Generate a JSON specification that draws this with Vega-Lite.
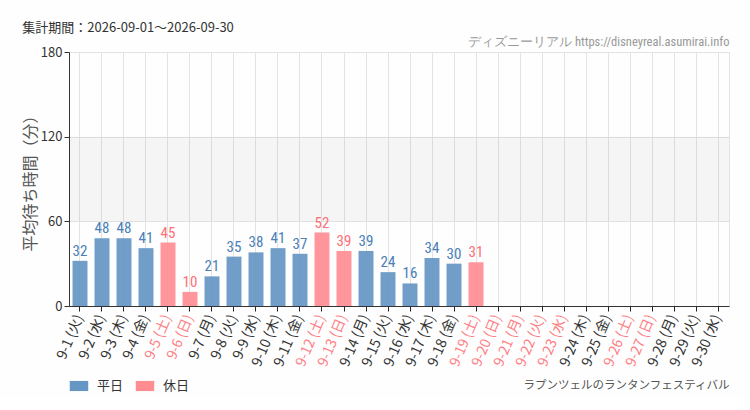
{
  "$schema": "https://vega.github.io/schema/vega-lite/v6.json",
  "width": 660,
  "height": 254,
  "padding": {"left": 22, "top": 22, "right": 20, "bottom": 5},
  "background": "#fdfefd",
  "title": {
    "text": "集計期間：2026-09-01〜2026-09-30",
    "anchor": "start",
    "frame": "bounds",
    "font": "Noto Sans CJK JP",
    "fontSize": 13,
    "fontWeight": "normal",
    "color": "#333333",
    "offset": 0
  },
  "config": {
    "view": {"stroke": "#e3e3e3"},
    "axis": {"labelFont": "Noto Sans CJK JP", "titleFont": "Noto Sans CJK JP"},
    "legend": {"labelFont": "Noto Sans CJK JP"}
  },
  "datasets": {
    "days": [
      {"day": "9-1 (火)", "type": "平日", "wait": 32},
      {"day": "9-2 (水)", "type": "平日", "wait": 48},
      {"day": "9-3 (木)", "type": "平日", "wait": 48},
      {"day": "9-4 (金)", "type": "平日", "wait": 41},
      {"day": "9-5 (土)", "type": "休日", "wait": 45},
      {"day": "9-6 (日)", "type": "休日", "wait": 10},
      {"day": "9-7 (月)", "type": "平日", "wait": 21},
      {"day": "9-8 (火)", "type": "平日", "wait": 35},
      {"day": "9-9 (水)", "type": "平日", "wait": 38},
      {"day": "9-10 (木)", "type": "平日", "wait": 41},
      {"day": "9-11 (金)", "type": "平日", "wait": 37},
      {"day": "9-12 (土)", "type": "休日", "wait": 52},
      {"day": "9-13 (日)", "type": "休日", "wait": 39},
      {"day": "9-14 (月)", "type": "平日", "wait": 39},
      {"day": "9-15 (火)", "type": "平日", "wait": 24},
      {"day": "9-16 (水)", "type": "平日", "wait": 16},
      {"day": "9-17 (木)", "type": "平日", "wait": 34},
      {"day": "9-18 (金)", "type": "平日", "wait": 30},
      {"day": "9-19 (土)", "type": "休日", "wait": 31},
      {"day": "9-20 (日)", "type": "休日", "wait": null},
      {"day": "9-21 (月)", "type": "休日", "wait": null},
      {"day": "9-22 (火)", "type": "休日", "wait": null},
      {"day": "9-23 (水)", "type": "休日", "wait": null},
      {"day": "9-24 (木)", "type": "平日", "wait": null},
      {"day": "9-25 (金)", "type": "平日", "wait": null},
      {"day": "9-26 (土)", "type": "休日", "wait": null},
      {"day": "9-27 (日)", "type": "休日", "wait": null},
      {"day": "9-28 (月)", "type": "平日", "wait": null},
      {"day": "9-29 (火)", "type": "平日", "wait": null},
      {"day": "9-30 (水)", "type": "平日", "wait": null}
    ],
    "bands": [{"lo": 60, "hi": 120}]
  },
  "layer": [
    {
      "data": {"name": "bands"},
      "mark": {"type": "rect", "color": "#000000", "opacity": 0.035},
      "encoding": {
        "y": {
          "field": "lo",
          "type": "quantitative",
          "scale": {"domain": [0, 180], "nice": false},
          "axis": {
            "title": "平均待ち時間（分）",
            "values": [0, 60, 120, 180],
            "labelFontSize": 13,
            "labelColor": "#333333",
            "domainColor": "#333333",
            "tickColor": "#333333",
            "tickSize": 5,
            "gridColor": "#e3e3e3",
            "titleFontSize": 16,
            "titleFontWeight": "normal",
            "titleColor": "#555555",
            "titlePadding": 2
          }
        },
        "y2": {"field": "hi"}
      }
    },
    {
      "data": {"name": "days"},
      "mark": {"type": "bar", "opacity": 0.92},
      "encoding": {
        "x": {
          "field": "day",
          "type": "nominal",
          "sort": null,
          "scale": {
            "domain": ["9-1 (火)", "9-2 (水)", "9-3 (木)", "9-4 (金)", "9-5 (土)", "9-6 (日)", "9-7 (月)", "9-8 (火)", "9-9 (水)", "9-10 (木)", "9-11 (金)", "9-12 (土)", "9-13 (日)", "9-14 (月)", "9-15 (火)", "9-16 (水)", "9-17 (木)", "9-18 (金)", "9-19 (土)", "9-20 (日)", "9-21 (月)", "9-22 (火)", "9-23 (水)", "9-24 (木)", "9-25 (金)", "9-26 (土)", "9-27 (日)", "9-28 (月)", "9-29 (火)", "9-30 (水)"],
            "paddingInner": 0.32,
            "paddingOuter": 0.16
          },
          "axis": {
            "orient": "bottom",
            "title": "ラプンツェルのランタンフェスティバル",
            "titleAnchor": "end",
            "titleFontSize": 11.5,
            "titleFontWeight": "normal",
            "titleColor": "#555555",
            "titlePadding": 11,
            "bandPosition": 0.5,
            "labelAngle": -67,
            "labelAlign": "right",
            "labelBaseline": "middle",
            "labelFontSize": 14,
            "labelPadding": 4,
            "labelColor": {
              "condition": {
                "test": "indexof(['9-5 (土)','9-6 (日)','9-12 (土)','9-13 (日)','9-19 (土)','9-20 (日)','9-21 (月)','9-22 (火)','9-23 (水)','9-26 (土)','9-27 (日)'], datum.value) >= 0",
                "value": "#ff7f85"
              },
              "value": "#333333"
            },
            "domainColor": "#333333",
            "tickColor": "#222222",
            "tickSize": 5,
            "grid": true,
            "gridColor": "#e3e3e3"
          }
        },
        "y": {
          "field": "wait",
          "type": "quantitative",
          "scale": {"domain": [0, 180], "nice": false},
          "axis": {
            "title": "平均待ち時間（分）",
            "values": [0, 60, 120, 180],
            "labelFontSize": 13,
            "labelColor": "#333333",
            "domainColor": "#333333",
            "tickColor": "#333333",
            "tickSize": 5,
            "gridColor": "#e3e3e3",
            "titleFontSize": 16,
            "titleFontWeight": "normal",
            "titleColor": "#555555",
            "titlePadding": 2
          }
        },
        "color": {
          "field": "type",
          "type": "nominal",
          "scale": {"domain": ["平日", "休日"], "range": ["#6596c4", "#ff8d92"]},
          "legend": {
            "title": null,
            "orient": "none",
            "direction": "horizontal",
            "legendX": 0,
            "legendY": 324,
            "symbolType": "M-1,-0.55H1V0.55H-1Z",
            "symbolSize": 340,
            "symbolOpacity": 1,
            "labelFontSize": 13,
            "labelColor": "#333333",
            "columnPadding": 11,
            "labelOffset": 8
          }
        }
      }
    },
    {
      "data": {"name": "days"},
      "mark": {"type": "text", "baseline": "bottom", "dy": -2, "font": "Roboto Condensed, DejaVu Sans Condensed, sans-serif", "fontSize": 15},
      "encoding": {
        "x": {
          "field": "day",
          "type": "nominal",
          "sort": null,
          "axis": {
            "orient": "top",
            "title": "ディズニーリアル https://disneyreal.asumirai.info",
            "titleAnchor": "end",
            "titleFont": "Roboto Condensed, DejaVu Sans Condensed, sans-serif",
            "titleFontSize": 12.5,
            "titleFontWeight": "normal",
            "titleColor": "#999999",
            "titlePadding": 4,
            "labels": false,
            "ticks": false,
            "domain": false,
            "grid": false
          }
        },
        "y": {"field": "wait", "type": "quantitative"},
        "text": {"field": "wait", "type": "quantitative"},
        "color": {
          "field": "type",
          "type": "nominal",
          "scale": {"domain": ["平日", "休日"], "range": ["#4a7fb8", "#ff6f77"]},
          "legend": null
        }
      }
    }
  ],
  "resolve": {"axis": {"x": "independent"}, "scale": {"color": "independent"}}
}
